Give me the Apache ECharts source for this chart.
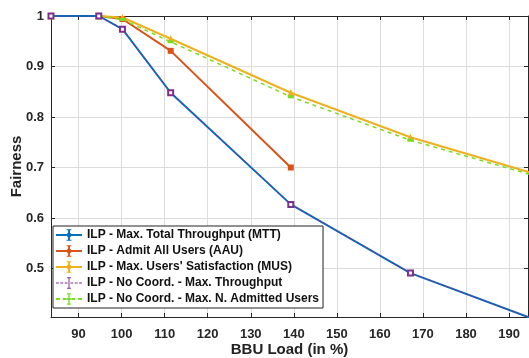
<!DOCTYPE html>
<html>
<head>
<meta charset="utf-8">
<script src="https://cdn.jsdelivr.net/npm/echarts@6/dist/echarts.min.js"></script>
<style>
  html, body { margin: 0; padding: 0; background: #fff; }
  #chart { width: 529px; height: 358px; }
</style>
</head>
<body>
<div id="chart"></div>
<script>
// BBU load (x) and fairness per scheme
const bbuLoad = [83.6, 94.7, 100.2, 111.4, 139.3, 167.1, 195.0];
const mtt = [1.0, 1.0, 0.974, 0.848, 0.627, 0.491, 0.402];
const aau = [1.0, 1.0, 0.994, 0.931, 0.700];
const mus = [1.0, 1.0, 0.997, 0.955, 0.848, 0.760, 0.690];
const noCoordThr = [1.0, 1.0, 0.974, 0.848, 0.627, 0.491, 0.402];
const noCoordAdm = [1.0, 1.0, 0.993, 0.949, 0.840, 0.754, 0.686];

const xTicks = [90, 100, 110, 120, 130, 140, 150, 160, 170, 180, 190];
const yTicks = [0.5, 0.6, 0.7, 0.8, 0.9, 1];

const names = [
  "ILP - Max. Total Throughput (MTT)",
  "ILP - Admit All Users (AAU)",
  "ILP - Max. Users' Satisfaction (MUS)",
  "ILP - No Coord. - Max. Throughput",
  "ILP - No Coord. - Max. N. Admitted Users",
];
const colors = ["#0072BD", "#D95319", "#EDB120", "#7E2F8E", "#77DD22"];

// legend glyphs: line + error bar (+ marker)
const iconSolid =
  "path://M0 5H27V7H0Z M12.5 0H14.5V12H12.5Z M11 0H16V1H11Z M11 11H16V12H11Z M13.5 2.5L17 6L13.5 9.5L10 6Z";
const iconPurple =
  "path://M0 5.5H3V6.5H0Z M4.5 5.5H7.5V6.5H4.5Z M9 5.5H12V6.5H9Z M15 5.5H18V6.5H15Z M19.5 5.5H22.5V6.5H19.5Z M24 5.5H27V6.5H24Z M13 0H14V12H13Z M11.5 0H15.5V1H11.5Z M11.5 11H15.5V12H11.5Z";
const iconGreen =
  "path://M0 5H4V7H0Z M7 5H11V7H7Z M16 5H20V7H16Z M23 5H27V7H23Z M12.8 0H14.2V12H12.8Z M11.5 0H15.5V1.2H11.5Z M11.5 10.8H15.5V12H11.5Z M11.5 5H15.5V7H11.5Z";

const pairs = (ys) => ys.map((y, i) => [bbuLoad[i], y]);

const font = "Liberation Sans, Arial, Helvetica, sans-serif";

function lineSeries(idx, ys, opts) {
  return Object.assign({
    name: names[idx],
    type: "line",
    data: pairs(ys),
    color: colors[idx],
    lineStyle: { width: 2, color: colors[idx] },
    itemStyle: { color: colors[idx] },
    symbolSize: 6,
    clip: true,
    animation: false,
    z: 2,
  }, opts);
}

const chart = echarts.init(document.getElementById("chart"));
chart.setOption({
  animation: false,
  textStyle: { fontFamily: font },
  grid: { left: 51, right: 1, top: 16, bottom: 41, containLabel: false, outerBoundsMode: "none" },
  legend: {
    left: 53,
    top: 226,
    orient: "vertical",
    backgroundColor: "#fff",
    borderColor: "#222",
    borderWidth: 1,
    padding: [3, 4, 3, 3],
    itemWidth: 26,
    itemHeight: 12,
    itemGap: 4,
    textStyle: { fontFamily: font, fontWeight: "bold", fontSize: 12, color: "#111", lineHeight: 12 },
    data: [
      { name: names[0], icon: iconSolid },
      { name: names[1], icon: iconSolid },
      { name: names[2], icon: iconSolid },
      { name: names[3], icon: iconPurple },
      { name: names[4], icon: iconGreen },
    ],
  },
  xAxis: [
    {
      type: "value",
      min: 83.6,
      max: 194.4,
      name: "BBU Load (in %)",
      nameLocation: "middle",
      nameGap: 25,
      nameMoveOverlap: false,
      nameTextStyle: { fontFamily: font, fontWeight: "bold", fontSize: 15, color: "#222" },
      axisLine: { lineStyle: { color: "#262626", width: 1 } },
      axisTick: { inside: true, length: 4, customValues: xTicks, lineStyle: { color: "#262626" } },
      axisLabel: {
        customValues: xTicks, margin: 11,
        fontFamily: font, fontWeight: "bold", fontSize: 13, color: "#262626",
      },
      splitLine: { show: true, lineStyle: { color: "#dcdcdc", width: 1 } },
    },
    {
      type: "value",
      position: "top",
      min: 83.6,
      max: 194.4,
      axisLine: { show: true, lineStyle: { color: "#262626", width: 1 } },
      axisTick: { inside: true, length: 4, customValues: xTicks, lineStyle: { color: "#262626" } },
      axisLabel: { show: false },
      splitLine: { show: false },
    },
  ],
  yAxis: [
    {
      type: "value",
      min: 0.404,
      max: 1,
      name: "Fairness",
      nameLocation: "middle",
      nameGap: 27,
      nameMoveOverlap: false,
      nameTextStyle: { fontFamily: font, fontWeight: "bold", fontSize: 15, color: "#222" },
      axisLine: { show: true, lineStyle: { color: "#262626", width: 1 } },
      axisTick: { show: true, inside: true, length: 4, customValues: yTicks, lineStyle: { color: "#262626" } },
      axisLabel: {
        customValues: yTicks, margin: 7,
        fontFamily: font, fontWeight: "bold", fontSize: 13, color: "#262626",
        formatter: (v) => String(+v.toFixed(2)),
      },
      splitLine: { show: true, lineStyle: { color: "#dcdcdc", width: 1 } },
    },
    {
      type: "value",
      position: "right",
      min: 0.404,
      max: 1,
      axisLine: { show: true, lineStyle: { color: "#262626", width: 1 } },
      axisTick: { show: true, inside: true, length: 4, customValues: yTicks, lineStyle: { color: "#262626" } },
      axisLabel: { show: false },
      splitLine: { show: false },
    },
  ],
  series: [
    lineSeries(0, mtt, { symbol: "circle", symbolSize: 5, z: 3 }),
    lineSeries(1, aau, { symbol: "rect", symbolSize: 6 }),
    lineSeries(2, mus, { symbol: "triangle", symbolSize: 7 }),
    lineSeries(3, noCoordThr, {
      symbol: "emptyRect", symbolSize: 5, z: 4,
      itemStyle: { color: colors[3], borderWidth: 1.5 },
      lineStyle: { width: 1, type: [3, 2], color: colors[3] },
    }),
    lineSeries(4, noCoordAdm, {
      symbol: "rect", symbolSize: [6, 3],
      lineStyle: { width: 1.5, type: [4, 4], color: colors[4] },
    }),
  ],
});
</script>
</body>
</html>
